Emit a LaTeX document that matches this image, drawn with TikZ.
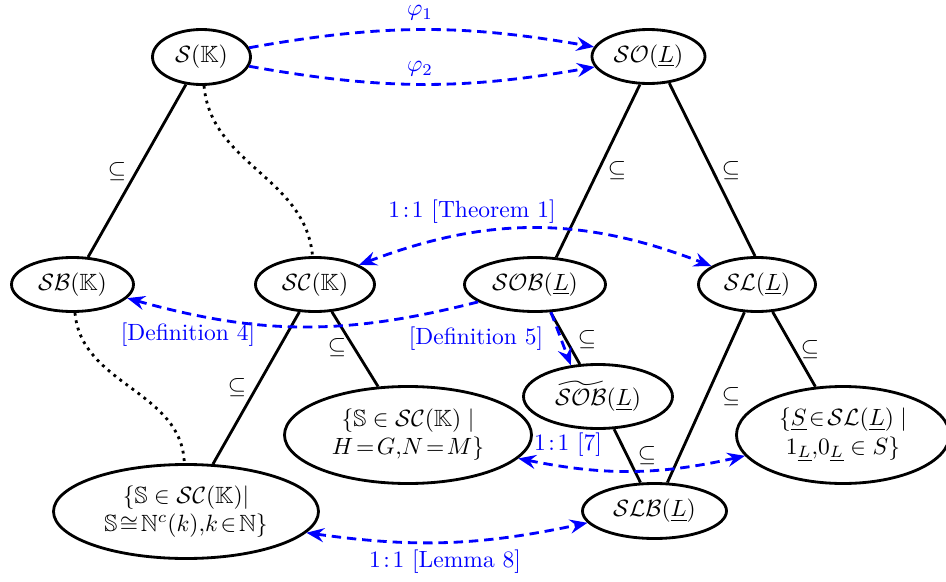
\documentclass[tikz,border=0pt]{standalone}
\usepackage{amssymb}
\usetikzlibrary{arrows.meta,shapes.geometric}
\def\pxu{0.4255pt}
\tikzset{
  st/.style={ellipse, draw, line width=1.2pt, inner sep=0pt, align=center},
  sub/.style={line width=1.2pt},
  dots/.style={line width=1.2pt, dotted},
  tip/.tip={Stealth[length=7.5pt,width=6pt,inset=2.6pt]},
  blu/.style={blue, line width=1.2pt, dash pattern=on 4pt off 2.5pt, -tip},
  blub/.style={blue, line width=1.2pt, dash pattern=on 4pt off 2.5pt, tip-tip},
  lab/.style={text=blue, inner sep=0pt},
  sublab/.style={inner sep=0pt},
}
\begin{document}
\begin{tikzpicture}[x=\pxu, y=\pxu]
\useasboundingbox (0,0) rectangle (946,581);
% nodes
\node[st, minimum width=98*\pxu, minimum height=55*\pxu] (SK) at (201.5,524) {$\mathcal{S}(\mathbb{K})$};
\node[st, minimum width=113*\pxu, minimum height=54*\pxu] (SOL) at (648.5,524.5) {$\mathcal{SO}(\underline{L})$};
\node[st, minimum width=122*\pxu, minimum height=54*\pxu] (SBK) at (72.5,296.5) {$\mathcal{SB}(\mathbb{K})$};
\node[st, minimum width=119*\pxu, minimum height=54*\pxu] (SCK) at (315,296.5) {$\mathcal{SC}(\mathbb{K})$};
\node[st, minimum width=141*\pxu, minimum height=54*\pxu] (SOBL) at (535,296.5) {$\mathcal{SOB}(\underline{L})$};
\node[st, minimum width=117*\pxu, minimum height=54*\pxu] (SLL) at (757,296.5) {$\mathcal{SL}(\underline{L})$};
\node[st, minimum width=149*\pxu, minimum height=64*\pxu] (Tilde) at (598,184.5) {$\widetilde{\mathcal{SOB}}(\underline{L})$};
\node[st, minimum width=144*\pxu, minimum height=55*\pxu] (SLB) at (654.5,70) {$\mathcal{SLB}(\underline{L})$};
\node[st, minimum width=247*\pxu, minimum height=97*\pxu] (HG) at (408,146) {$\{\mathbb{S}\in\mathcal{SC}(\mathbb{K})\mid$\\$H\!=\!G{,}N\!=\!M\}$};
\node[st, minimum width=213*\pxu, minimum height=97*\pxu] (SN) at (843,146) {$\{\underline{S}\!\in\!\mathcal{SL}(\underline{L})\mid$\\$1_{\underline{L}}{,}0_{\underline{L}}\in S\}$};
\node[st, minimum width=265*\pxu, minimum height=94*\pxu] (BL) at (186,69.5) {$\{\mathbb{S}\in\mathcal{SC}(\mathbb{K})|$\\$\mathbb{S}\!\cong\!\mathbb{N}^c(k){,}k\!\in\!\mathbb{N}\}$};
% solid inclusions
\draw[sub] (SK) -- (SBK);
\draw[sub] (SOL.-107) -- (SOBL.52);
\draw[sub] (SOL.-52) -- (SLL.94);
\draw[sub] (SCK) -- (BL);
\draw[sub] (SCK) -- (HG);
\draw[sub] (SOBL) -- (Tilde);
\draw[sub] (Tilde) -- (SLB);
\draw[sub] (SLL) -- (SLB);
\draw[sub] (SLL) -- (SN);
% inclusion labels
\node[sublab] (c1) at (117,409) {$\subseteq$};
\node[sublab] (c2) at (617,410) {$\subseteq$};
\node[sublab] (c3) at (731,410) {$\subseteq$};
\node[sublab] (c4) at (587,241) {$\subseteq$};
\node[sublab] (c5) at (337,233) {$\subseteq$};
\node[sublab] (c6) at (237,193) {$\subseteq$};
\node[sublab] (c7) at (810,231) {$\subseteq$};
\node[sublab] (c8) at (731,184) {$\subseteq$};
\node[sublab] (c9) at (647,125) {$\subseteq$};
% dotted
\draw[dots] (SK) to[out=-85,in=95] (SCK);
\draw[dots] (SBK) to[out=-85,in=92] (BL);
% blue maps
\draw[blu] (SK.11) to[bend left=10] (SOL.170);
\draw[blu] (SK.-11) to[bend right=10] (SOL.191);
\draw[blub] (SCK.24) to[bend left=21] (SLL.158);
\draw[blu] (SOBL.197) to[bend left=15] (SBK.-14);
\draw[blu] (SOBL.-60) -- (Tilde.131);
\draw[blub] (HG.-12) to[bend right=12] (SN.192);
\draw[blub] (BL.-10) to[bend right=10] (SLB.190);
% blue labels
\node[lab] (p1) at (420,568) {$\varphi_1$};
\node[lab] (p2) at (420,512) {$\varphi_2$};
\node[lab] (t1) at (472,369) {$1\!:\!1$ [Theorem 1]};
\node[lab] (d4) at (188,246) {[Definition 4]};
\node[lab] (d5) at (476,242) {[Definition 5]};
\node[lab] (s7) at (568,136) {$1\!:\!1$ [7]};
\node[lab] (l8) at (445,19) {$1\!:\!1$ [Lemma 8]};
\end{tikzpicture}
\end{document}
